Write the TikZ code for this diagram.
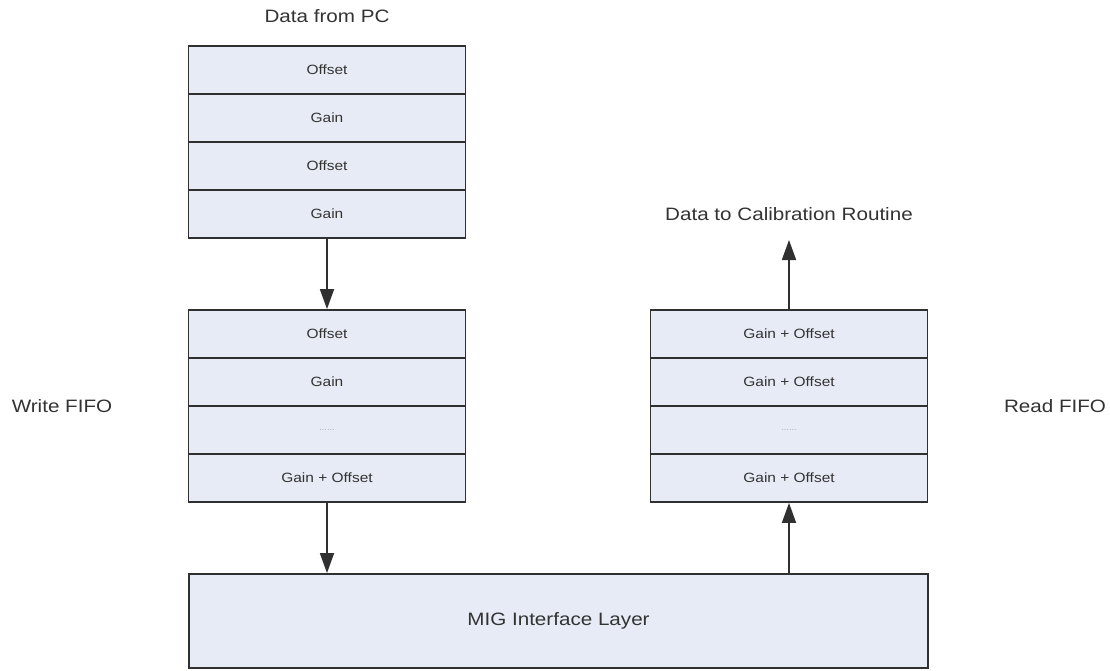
\documentclass[tikz,border=0pt]{standalone}
\usepackage{fontspec}
\setmainfont{Liberation Sans}[FakeStretch=1.15]
\usetikzlibrary{arrows.meta}
\definecolor{cellfill}{HTML}{E6EBF5}
\definecolor{edge}{HTML}{303030}
\definecolor{txt}{HTML}{333333}
\tikzset{
  cell/.style={draw=edge, line width=1.8bp, fill=cellfill, minimum width=277bp, minimum height=48bp, inner sep=0pt, text=txt, font=\fontsize{13.5}{15}\selectfont},
  bigbox/.style={draw=edge, line width=1.8bp, fill=cellfill, minimum width=739bp, minimum height=94bp, inner sep=0pt, text=txt, font=\fontsize{18}{20}\selectfont},
  lbl/.style={text=txt, inner sep=0pt, font=\fontsize{18}{20}\selectfont},
  dots/.style={text=gray!70, font=\fontsize{8}{9}\selectfont},
  flow/.style={draw=edge, line width=1.8bp, -{Triangle[length=20bp,width=14bp]}}
}
\begin{document}
\begin{tikzpicture}[x=1bp,y=-1bp]
\useasboundingbox (0,0) rectangle (1110,671);
% top stack
\node[lbl, anchor=base] (pc) at (327,23) {Data from PC};
\node[cell] (t1) at (327,70) {Offset};
\node[cell] (t2) at (327,118) {Gain};
\node[cell] (t3) at (327,166) {Offset};
\node[cell] (t4) at (327,214) {Gain};
% write FIFO
\node[cell] (w1) at (327,334) {Offset};
\node[cell] (w2) at (327,382) {Gain};
\node[cell] (w3) at (327,430) {}; 
\node[dots] (w3d) at (327,430) {......};
\node[cell] (w4) at (327,478) {Gain + Offset};
\node[lbl] (wf) at (62,406) {Write FIFO};
% read FIFO
\node[cell] (r1) at (789,334) {Gain + Offset};
\node[cell] (r2) at (789,382) {Gain + Offset};
\node[cell] (r3) at (789,430) {};
\node[dots] (r3d) at (789,430) {......};
\node[cell] (r4) at (789,478) {Gain + Offset};
\node[lbl] (rf) at (1055,406) {Read FIFO};
% output label
\node[lbl, anchor=base] (calib) at (789,221) {Data to Calibration Routine};
\coordinate (outtip) at (789,240);
% MIG
\node[bigbox] (mig) at (558.5,621) {MIG Interface Layer};
% arrows
\draw[flow] (t4.south) -- (w1.north);
\draw[flow] (w4.south) -- (w4.south |- mig.north);
\draw[flow] (mig.north -| r4.south) -- (r4.south);
\draw[flow] (r1.north) -- (outtip);
\end{tikzpicture}
\end{document}
